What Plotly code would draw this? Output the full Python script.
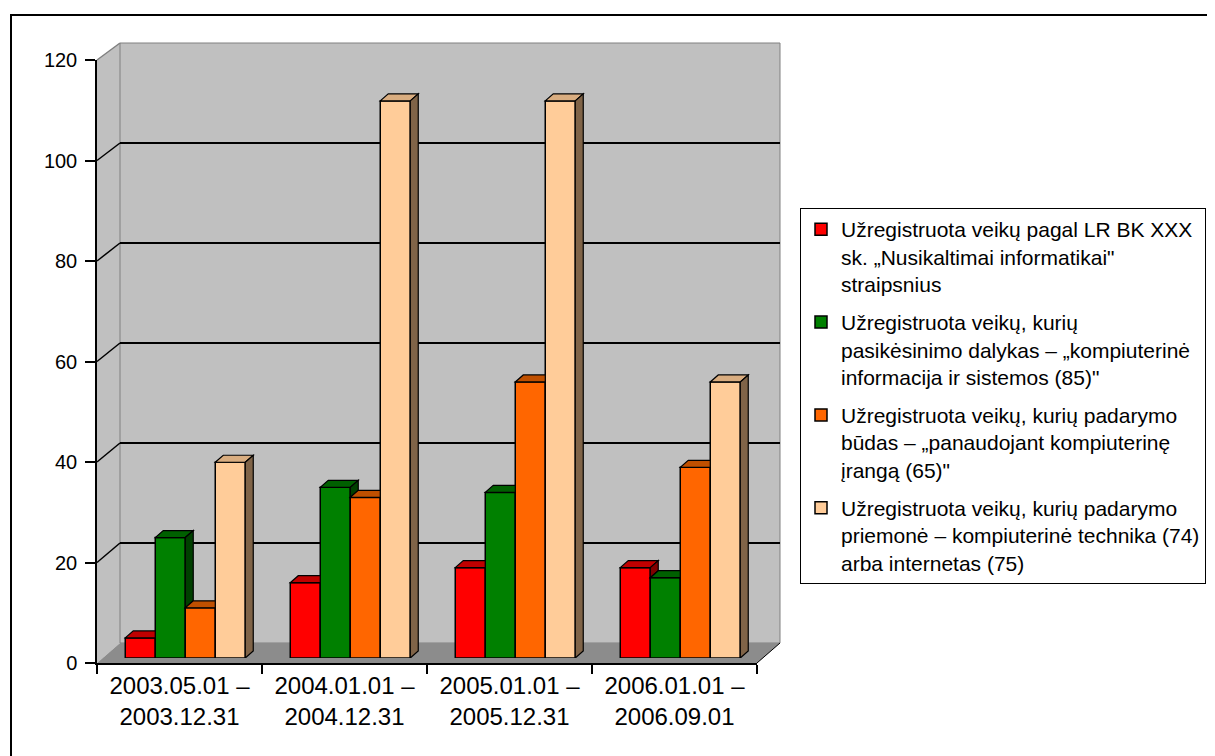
import plotly.graph_objects as go

# ---------------- data ----------------
categories = ["2003.05.01 – 2003.12.31", "2004.01.01 – 2004.12.31",
              "2005.01.01 – 2005.12.31", "2006.01.01 – 2006.09.01"]
tick_labels = ["2003.05.01 –<br>2003.12.31", "2004.01.01 –<br>2004.12.31",
               "2005.01.01 –<br>2005.12.31", "2006.01.01 –<br>2006.09.01"]
series_names = [
    "Užregistruota veikų pagal LR BK XXX<br>sk. „Nusikaltimai informatikai\"<br>straipsnius",
    "Užregistruota veikų, kurių<br>pasikėsinimo dalykas – „kompiuterinė<br>informacija ir sistemos (85)\"",
    "Užregistruota veikų, kurių padarymo<br>būdas – „panaudojant kompiuterinę<br>įrangą (65)\"",
    "Užregistruota veikų, kurių padarymo<br>priemonė – kompiuterinė technika (74)<br>arba internetas (75)",
]
red_vals = [4, 15, 18, 18]
green_vals = [24, 34, 33, 16]
orange_vals = [10, 32, 55, 38]
peach_vals = [39, 111, 111, 55]
y_ticks = [0, 20, 40, 60, 80, 100, 120]

series_vals = [red_vals, green_vals, orange_vals, peach_vals]
front_colors = ["#FF0000", "#008000", "#FF6600", "#FFCC99"]
top_colors = ["#C00000", "#006000", "#C05000", "#D9AD80"]
side_colors = ["#800000", "#004000", "#803300", "#806448"]

# ---------------- geometry (page pixels) ----------------
OFF = 8                      # default body margin of the html page
W, H = 1215 - OFF, 756 - OFF
def px(x): return (x - OFF) / W
def py(y): return 1 - (y - OFF) / H

FX0, FX1, FY0, FY1 = 97, 757, 663, 60       # front plane (axes)
BX0, BX1, BY0, BY1 = 120, 780, 643, 43      # back wall
DEPTH_X, DEPTH_Y = BX0 - FX0, FY0 - BY0
f = 0.25                                    # bar front plane depth fraction
CX0, CX1 = FX0 + f * DEPTH_X, FX1 + f * DEPTH_X
CY0, CY1 = FY0 - f * DEPTH_Y, FY1 - f * (FY1 - BY1)

BARGAP = 0.2727
n = len(series_vals)
GW = 1 - BARGAP
BW = GW / n
cat_px = (CX1 - CX0) / len(categories)
val_px = (CY0 - CY1) / 120
DX = 8 / cat_px
DY = 7 / val_px

fig = go.Figure()

# invisible trace to build the front category axis
fig.add_trace(go.Scatter(x=categories, y=[0] * len(categories), mode="markers",
                         marker=dict(opacity=0), hoverinfo="skip", showlegend=False,
                         xaxis="x", yaxis="y"))
# invisible trace for back wall subplot
fig.add_trace(go.Scatter(x=[0.5], y=[0], mode="markers", marker=dict(opacity=0),
                         hoverinfo="skip", showlegend=False, xaxis="x2", yaxis="y2"))

for j, vals in enumerate(series_vals):
    fig.add_trace(go.Bar(
        x=categories, y=vals, name=series_names[j],
        marker=dict(color=front_colors[j], line=dict(color="black", width=1.5)),
        xaxis="x3", yaxis="y3", legendgroup="g%d" % j,
    ))

shapes = []

def ppath(pts):
    return "M " + " L ".join("%.5f,%.5f" % (px(x), py(y)) for x, y in pts) + " Z"

# outer frame
shapes.append(dict(type="rect", xref="paper", yref="paper", x0=px(11), x1=px(1235),
                   y0=py(15), y1=py(790), line=dict(color="black", width=2), layer="below"))
# side wall
shapes.append(dict(type="path", xref="paper", yref="paper",
                   path=ppath([(FX0, FY0), (FX0, FY1), (BX0, BY1), (BX0, BY0)]),
                   fillcolor="#C0C0C0", line=dict(width=0), layer="below"))
# back wall
shapes.append(dict(type="rect", xref="paper", yref="paper", x0=px(BX0), x1=px(BX1),
                   y0=py(BY0), y1=py(BY1), fillcolor="#C0C0C0",
                   line=dict(color="#808080", width=1), layer="below"))
# floor
shapes.append(dict(type="path", xref="paper", yref="paper",
                   path=ppath([(FX0, FY0), (FX1, FY0), (BX1, BY0), (BX0, BY0)]),
                   fillcolor="#8C8C8C", line=dict(width=0), layer="below"))
shapes.append(dict(type="line", xref="paper", yref="paper", x0=px(FX1), y0=py(FY0),
                   x1=px(BX1), y1=py(BY0), line=dict(color="black", width=1), layer="below"))
# side wall diagonal grid lines
for v in y_ticks[1:]:
    fy = FY0 - v * (FY0 - FY1) / 120
    by = BY0 - v * (BY0 - BY1) / 120
    shapes.append(dict(type="line", xref="paper", yref="paper", x0=px(FX0), y0=py(fy),
                       x1=px(BX0), y1=py(by),
                       line=dict(color="black" if v < 120 else "#808080", width=1.5),
                       layer="below"))

# 3D faces of bars, derived from the data
for i in range(len(categories)):
    for j in range(n):
        v = series_vals[j][i]
        vn = series_vals[j + 1][i] if j + 1 < n else 0
        left = i - GW / 2 + j * BW
        right = left + BW
        if vn > v:
            top = [(left, v), (right, v), (right, v + DY), (left + DX, v + DY)]
        else:
            top = [(left, v), (right, v), (right + DX, v + DY), (left + DX, v + DY)]
        shapes.append(dict(type="path", xref="x3", yref="y3",
                           path="M " + " L ".join("%.5f,%.5f" % p for p in top) + " Z",
                           fillcolor=top_colors[j], line=dict(color="black", width=1.2),
                           layer="above"))
        if v > vn:
            side = [(right, vn), (right, v), (right + DX, v + DY), (right + DX, vn + DY)]
            shapes.append(dict(type="path", xref="x3", yref="y3",
                               path="M " + " L ".join("%.5f,%.5f" % p for p in side) + " Z",
                               fillcolor=side_colors[j], line=dict(color="black", width=1.2),
                               layer="above"))

fig.update_layout(
    width=W, height=H, margin=dict(l=0, r=0, t=0, b=0, autoexpand=False),
    paper_bgcolor="white", plot_bgcolor="rgba(0,0,0,0)",
    barmode="group", bargap=BARGAP, bargroupgap=0,
    font=dict(family="Arial, Liberation Sans, sans-serif", color="black"),
    showlegend=True,
    xaxis=dict(domain=[px(FX0), px(FX1)], anchor="y", type="category", automargin=False,
               categoryorder="array", categoryarray=categories, range=[-0.5, 3.5],
               tickmode="array", tickvals=categories, ticktext=tick_labels,
               tickson="boundaries", ticks="outside", ticklen=9, tickwidth=1.5,
               tickcolor="black", showline=True, linecolor="black", linewidth=1.5,
               showgrid=False, zeroline=False, tickfont=dict(size=24)),
    yaxis=dict(domain=[py(FY0), py(FY1)], anchor="x", range=[0, 120], automargin=False,
               tickmode="array", tickvals=y_ticks, ticks="outside", ticklen=10,
               tickwidth=1.5, tickcolor="black", showline=True, linecolor="black",
               linewidth=1.5, showgrid=False, zeroline=False, tickfont=dict(size=20),
               ticklabelstandoff=4),
    xaxis2=dict(domain=[px(BX0), px(BX1)], anchor="y2", range=[0, 1], visible=False,
                automargin=False),
    yaxis2=dict(domain=[py(BY0), py(BY1)], anchor="x2", range=[0, 120], automargin=False,
                tickmode="array", tickvals=y_ticks[1:-1], showgrid=True,
                gridcolor="black", gridwidth=1.5, showticklabels=False, ticks="",
                showline=False, zeroline=False),
    xaxis3=dict(domain=[px(CX0), px(CX1)], anchor="y3", type="category", automargin=False,
                categoryorder="array", categoryarray=categories, range=[-0.5, 3.5],
                visible=False),
    yaxis3=dict(domain=[py(CY0), py(CY1)], anchor="x3", range=[0, 120], visible=False,
                automargin=False),
    legend=dict(x=px(800), y=py(208), xanchor="left", yanchor="top",
                bordercolor="black", borderwidth=1, bgcolor="white",
                font=dict(size=21), tracegroupgap=8, traceorder="grouped",
                valign="top"),
    shapes=shapes,
)

fig.write_html("out.html")
